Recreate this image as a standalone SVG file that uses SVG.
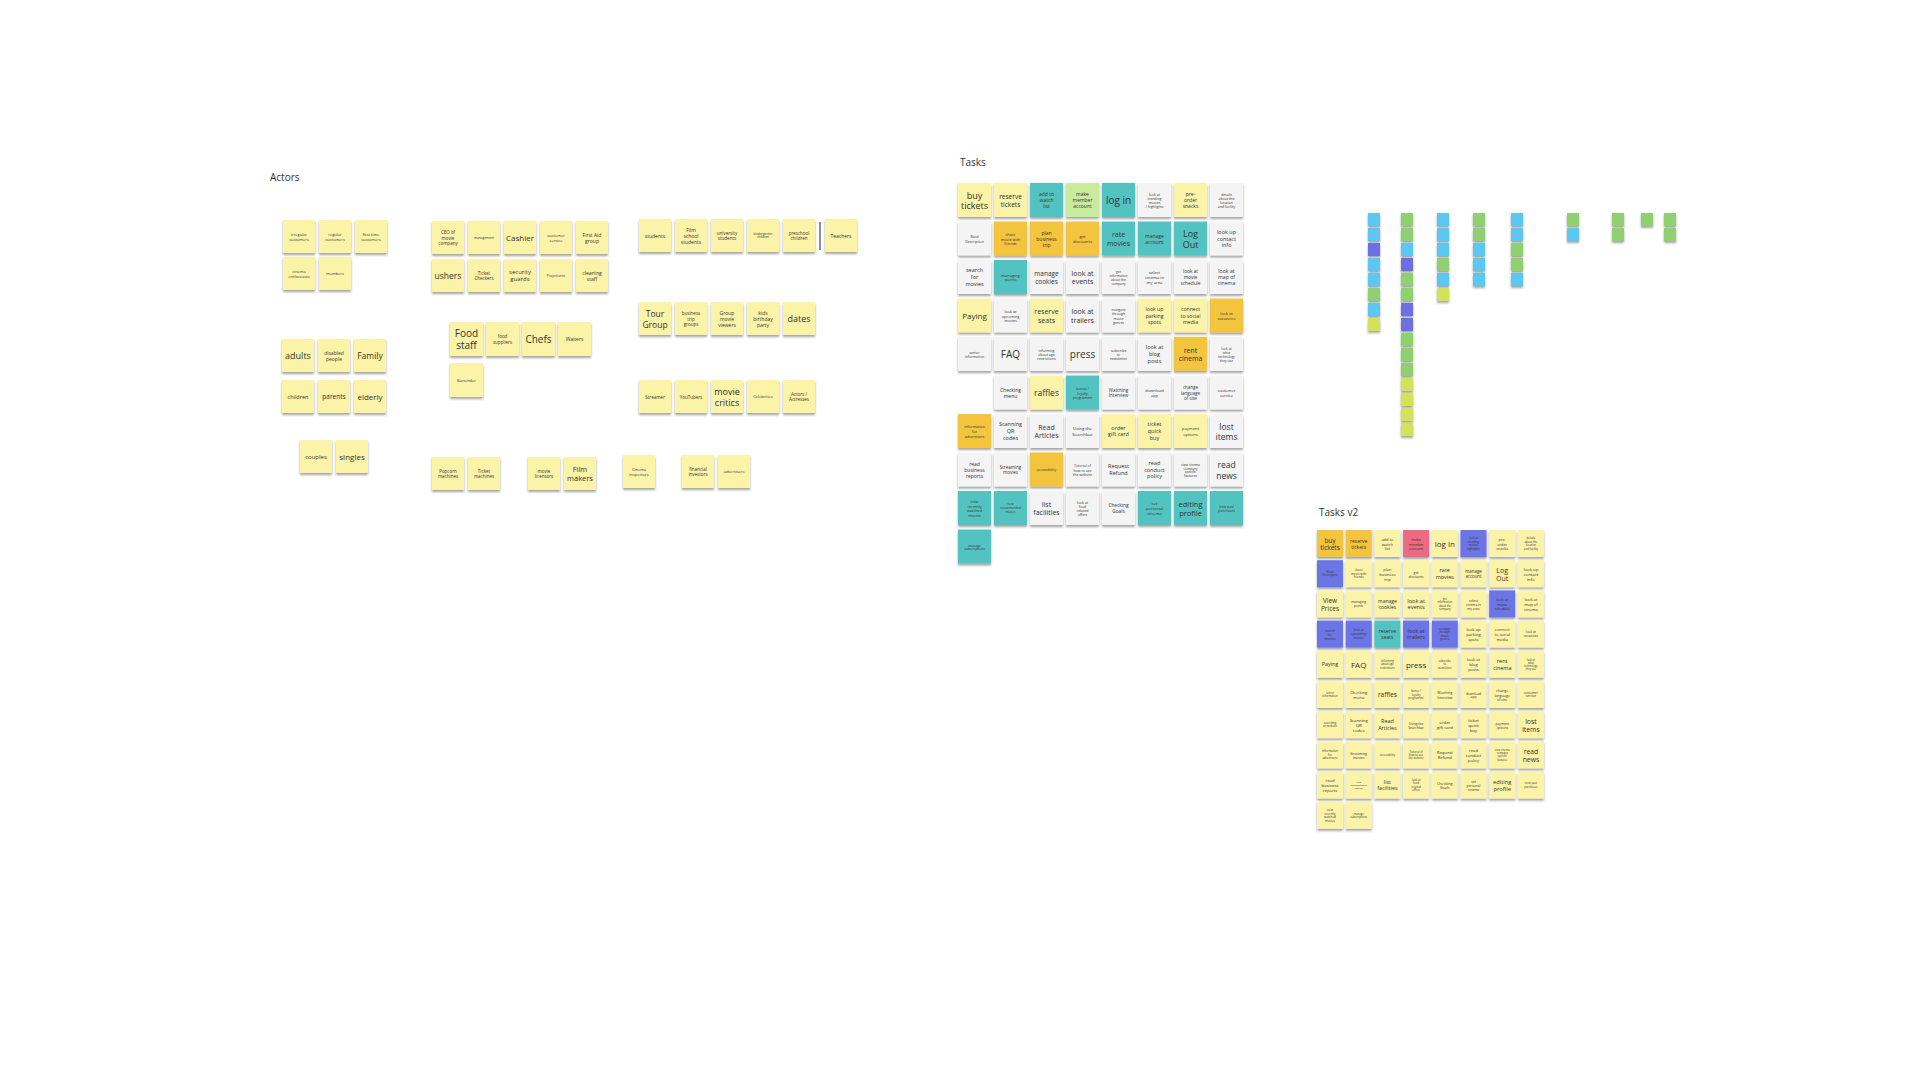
<svg xmlns="http://www.w3.org/2000/svg" width="1920" height="1080" viewBox="0 0 1920 1080">
<style>
.y{fill:#fbf3a8}.w{fill:#f4f4f4}.t{fill:#52c3c1}.o{fill:#f3c43d}.g{fill:#c9eb9c}.p{fill:#ec6a82}.b{fill:#6c74e6}
.lb{fill:#5cc8f2}.gr{fill:#8fd070}.yg{fill:#d2e35a}.pu{fill:#6d6fe2}
rect{filter:url(#sh)}
text{font-family:"Open Sans","Liberation Sans",sans-serif;fill:#333;text-anchor:middle;dominant-baseline:central}
.lbl{text-anchor:start;font-size:10px}
</style>
<defs><filter id="sh" x="-20%" y="-20%" width="140%" height="150%"><feDropShadow dx="0" dy="2" stdDeviation="1" flood-color="#333" flood-opacity="0.45"/></filter></defs>
<rect width="1920" height="1080" fill="#ffffff" style="filter:none"/>
<text class="lbl" x="270" y="177">Actors</text>
<text class="lbl" x="960" y="162">Tasks</text>
<text class="lbl" x="1319" y="512" font-size="9">Tasks v2</text>

<g id="actors">
<g id="a1"><rect class="y" x="283" y="220" width="32" height="33"/><text x="299" y="236.5" font-size="4"><tspan x="299" dy="-0.6em">irregular</tspan><tspan x="299" dy="1.2em">customers</tspan></text></g>
<g id="a2"><rect class="y" x="319" y="220" width="32" height="33"/><text x="335" y="236.5" font-size="4"><tspan x="335" dy="-0.6em">regular</tspan><tspan x="335" dy="1.2em">customers</tspan></text></g>
<g id="a3"><rect class="y" x="355" y="220" width="32" height="33"/><text x="371" y="236.5" font-size="4"><tspan x="371" dy="-0.6em">first time</tspan><tspan x="371" dy="1.2em">customers</tspan></text></g>
<g id="a4"><rect class="y" x="283" y="257" width="32" height="33"/><text x="299" y="273.5" font-size="4"><tspan x="299" dy="-0.6em">cinema</tspan><tspan x="299" dy="1.2em">enthusiasts</tspan></text></g>
<g id="a5"><rect class="y" x="319" y="257" width="32" height="33"/><text x="335" y="273.5" font-size="4">members</text></g>
<g id="a6"><rect class="y" x="282" y="339" width="32" height="33"/><text x="298" y="355.5" font-size="9">adults</text></g>
<g id="a7"><rect class="y" x="318" y="339" width="32" height="33"/><text x="334" y="355.5" font-size="5"><tspan x="334" dy="-0.6em">disabled</tspan><tspan x="334" dy="1.2em">people</tspan></text></g>
<g id="a8"><rect class="y" x="354" y="339" width="32" height="33"/><text x="370" y="355.5" font-size="8.5">Family</text></g>
<g id="a9"><rect class="y" x="282" y="380" width="32" height="33"/><text x="298" y="396.5" font-size="5.5">children</text></g>
<g id="a10"><rect class="y" x="318" y="380" width="32" height="33"/><text x="334" y="396.5" font-size="6.5">parents</text></g>
<g id="a11"><rect class="y" x="354" y="380" width="32" height="33"/><text x="370" y="396.5" font-size="8">elderly</text></g>
<g id="a12"><rect class="y" x="300" y="440" width="32" height="33"/><text x="316" y="456.5" font-size="6">couples</text></g>
<g id="a13"><rect class="y" x="336" y="440" width="32" height="33"/><text x="352" y="456.5" font-size="8">singles</text></g>

<g id="a14"><rect class="y" x="432" y="221" width="32" height="33"/><text x="448" y="237.5" font-size="4.5"><tspan x="448" dy="-1.2em">CEO of</tspan><tspan x="448" dy="1.2em">movie</tspan><tspan x="448" dy="1.2em">company</tspan></text></g>
<g id="a15"><rect class="y" x="468" y="221" width="32" height="33"/><text x="484" y="237.5" font-size="3.2">management</text></g>
<g id="a16"><rect class="y" x="504" y="221" width="32" height="33"/><text x="520" y="237.5" font-size="8">Cashier</text></g>
<g id="a17"><rect class="y" x="540" y="221" width="32" height="33"/><text x="556" y="237.5" font-size="4"><tspan x="556" dy="-0.6em">customer</tspan><tspan x="556" dy="1.2em">service</tspan></text></g>
<g id="a18"><rect class="y" x="576" y="221" width="32" height="33"/><text x="592" y="237.5" font-size="5"><tspan x="592" dy="-0.6em">First Aid</tspan><tspan x="592" dy="1.2em">group</tspan></text></g>
<g id="a19"><rect class="y" x="432" y="259" width="32" height="33"/><text x="448" y="275.5" font-size="8.5">ushers</text></g>
<g id="a20"><rect class="y" x="468" y="259" width="32" height="33"/><text x="484" y="275.5" font-size="4.5"><tspan x="484" dy="-0.6em">Ticket</tspan><tspan x="484" dy="1.2em">Checkers</tspan></text></g>
<g id="a21"><rect class="y" x="504" y="259" width="32" height="33"/><text x="520" y="275.5" font-size="6"><tspan x="520" dy="-0.6em">security</tspan><tspan x="520" dy="1.2em">guards</tspan></text></g>
<g id="a22"><rect class="y" x="540" y="259" width="32" height="33"/><text x="556" y="275.5" font-size="3.2">Projectionist</text></g>
<g id="a23"><rect class="y" x="576" y="259" width="32" height="33"/><text x="592" y="275.5" font-size="5"><tspan x="592" dy="-0.6em">cleaning</tspan><tspan x="592" dy="1.2em">staff</tspan></text></g>
<g id="a24"><rect class="y" x="450" y="322" width="33" height="34"/><text x="466.5" y="339" font-size="10"><tspan x="466.5" dy="-0.6em">Food</tspan><tspan x="466.5" dy="1.2em">staff</tspan></text></g>
<g id="a25"><rect class="y" x="486" y="322" width="33" height="34"/><text x="502.5" y="339" font-size="4.5"><tspan x="502.5" dy="-0.6em">food</tspan><tspan x="502.5" dy="1.2em">suppliers</tspan></text></g>
<g id="a26"><rect class="y" x="522" y="322" width="33" height="34"/><text x="538.5" y="339" font-size="10">Chefs</text></g>
<g id="a27"><rect class="y" x="558" y="322" width="33" height="34"/><text x="574.5" y="339" font-size="5">Waiters</text></g>
<g id="a28"><rect class="y" x="450" y="363" width="33" height="34"/><text x="466.5" y="380" font-size="4">Bartender</text></g>
<g id="a29"><rect class="y" x="432" y="457" width="32" height="33"/><text x="448" y="473.5" font-size="4.5"><tspan x="448" dy="-0.6em">Popcorn</tspan><tspan x="448" dy="1.2em">machines</tspan></text></g>
<g id="a30"><rect class="y" x="468" y="457" width="32" height="33"/><text x="484" y="473.5" font-size="4.5"><tspan x="484" dy="-0.6em">Ticket</tspan><tspan x="484" dy="1.2em">machines</tspan></text></g>
<g id="a31"><rect class="y" x="528" y="457" width="32" height="33"/><text x="544" y="473.5" font-size="4.5"><tspan x="544" dy="-0.6em">movie</tspan><tspan x="544" dy="1.2em">licensors</tspan></text></g>
<g id="a32"><rect class="y" x="564" y="457" width="32" height="33"/><text x="580" y="473.5" font-size="7.5"><tspan x="580" dy="-0.6em">Film</tspan><tspan x="580" dy="1.2em">makers</tspan></text></g>
<g id="a33"><rect class="y" x="623" y="455" width="32" height="33"/><text x="639" y="471.5" font-size="4"><tspan x="639" dy="-0.6em">Cinema</tspan><tspan x="639" dy="1.2em">inspectors</tspan></text></g>
<g id="a34"><rect class="y" x="682" y="455" width="32" height="33"/><text x="698" y="471.5" font-size="4.5"><tspan x="698" dy="-0.6em">financial</tspan><tspan x="698" dy="1.2em">investors</tspan></text></g>
<g id="a35"><rect class="y" x="718" y="455" width="32" height="33"/><text x="734" y="471.5" font-size="4">advertisers</text></g>

<g id="a36"><rect class="y" x="639" y="219" width="32" height="33"/><text x="655" y="235.5" font-size="5">students</text></g>
<g id="a37"><rect class="y" x="675" y="219" width="32" height="33"/><text x="691" y="235.5" font-size="5"><tspan x="691" dy="-1.2em">Film</tspan><tspan x="691" dy="1.2em">school</tspan><tspan x="691" dy="1.2em">students</tspan></text></g>
<g id="a38"><rect class="y" x="711" y="219" width="32" height="33"/><text x="727" y="235.5" font-size="4.5"><tspan x="727" dy="-0.6em">university</tspan><tspan x="727" dy="1.2em">students</tspan></text></g>
<g id="a39"><rect class="y" x="747" y="219" width="32" height="33"/><text x="763" y="235.5" font-size="3.2"><tspan x="763" dy="-0.6em">kindergarten</tspan><tspan x="763" dy="1.2em">children</tspan></text></g>
<g id="a40"><rect class="y" x="783" y="219" width="32" height="33"/><text x="799" y="235.5" font-size="4.5"><tspan x="799" dy="-0.6em">preschool</tspan><tspan x="799" dy="1.2em">children</tspan></text></g>
<line x1="820" y1="222" x2="820" y2="250" stroke="#444" stroke-width="1.2"/>
<g id="a41"><rect class="y" x="825" y="219" width="32" height="33"/><text x="841" y="235.5" font-size="5">Teachers</text></g>
<g id="a42"><rect class="y" x="639" y="302" width="32" height="33"/><text x="655" y="318.5" font-size="8.5"><tspan x="655" dy="-0.6em">Tour</tspan><tspan x="655" dy="1.2em">Group</tspan></text></g>
<g id="a43"><rect class="y" x="675" y="302" width="32" height="33"/><text x="691" y="318.5" font-size="4.5"><tspan x="691" dy="-1.2em">business</tspan><tspan x="691" dy="1.2em">trip</tspan><tspan x="691" dy="1.2em">groups</tspan></text></g>
<g id="a44"><rect class="y" x="711" y="302" width="32" height="33"/><text x="727" y="318.5" font-size="5"><tspan x="727" dy="-1.2em">Group</tspan><tspan x="727" dy="1.2em">movie</tspan><tspan x="727" dy="1.2em">viewers</tspan></text></g>
<g id="a45"><rect class="y" x="747" y="302" width="32" height="33"/><text x="763" y="318.5" font-size="5"><tspan x="763" dy="-1.2em">kids</tspan><tspan x="763" dy="1.2em">birthday</tspan><tspan x="763" dy="1.2em">party</tspan></text></g>
<g id="a46"><rect class="y" x="783" y="302" width="32" height="33"/><text x="799" y="318.5" font-size="9">dates</text></g>
<g id="a47"><rect class="y" x="639" y="380" width="32" height="33"/><text x="655" y="396.5" font-size="4.5">Streamer</text></g>
<g id="a48"><rect class="y" x="675" y="380" width="32" height="33"/><text x="691" y="396.5" font-size="4.5">YouTubers</text></g>
<g id="a49"><rect class="y" x="711" y="380" width="32" height="33"/><text x="727" y="396.5" font-size="9"><tspan x="727" dy="-0.6em">movie</tspan><tspan x="727" dy="1.2em">critics</tspan></text></g>
<g id="a50"><rect class="y" x="747" y="380" width="32" height="33"/><text x="763" y="396.5" font-size="4">Celebrities</text></g>
<g id="a51"><rect class="y" x="783" y="380" width="32" height="33"/><text x="799" y="396.5" font-size="4.5"><tspan x="799" dy="-0.6em">Actors /</tspan><tspan x="799" dy="1.2em">Actresses</tspan></text></g>
</g>

<g id="tasks">
<!-- row 0 y=183 -->
<g id="t0-0"><rect class="y" x="958" y="183" width="33" height="34"/><text x="974.5" y="200" font-size="9"><tspan x="974.5" dy="-0.6em">buy</tspan><tspan x="974.5" dy="1.2em">tickets</tspan></text></g>
<g id="t0-1"><rect class="y" x="994" y="183" width="33" height="34"/><text x="1010.5" y="200" font-size="6.5"><tspan x="1010.5" dy="-0.6em">reserve</tspan><tspan x="1010.5" dy="1.2em">tickets</tspan></text></g>
<g id="t0-2"><rect class="t" x="1030" y="183" width="33" height="34"/><text x="1046.5" y="200" font-size="5"><tspan x="1046.5" dy="-1.2em">add to</tspan><tspan x="1046.5" dy="1.2em">watch</tspan><tspan x="1046.5" dy="1.2em">list</tspan></text></g>
<g id="t0-3"><rect class="g" x="1066" y="183" width="33" height="34"/><text x="1082.5" y="200" font-size="5"><tspan x="1082.5" dy="-1.2em">make</tspan><tspan x="1082.5" dy="1.2em">member</tspan><tspan x="1082.5" dy="1.2em">account</tspan></text></g>
<g id="t0-4"><rect class="t" x="1102" y="183" width="33" height="34"/><text x="1118.5" y="200" font-size="10">log in</text></g>
<g id="t0-5"><rect class="w" x="1138" y="183" width="33" height="34"/><text x="1154.5" y="200" font-size="3.5"><tspan x="1154.5" dy="-1.8em">look at</tspan><tspan x="1154.5" dy="1.2em">trending</tspan><tspan x="1154.5" dy="1.2em">movies</tspan><tspan x="1154.5" dy="1.2em">/ highlights</tspan></text></g>
<g id="t0-6"><rect class="y" x="1174" y="183" width="33" height="34"/><text x="1190.5" y="200" font-size="5"><tspan x="1190.5" dy="-1.2em">pre-</tspan><tspan x="1190.5" dy="1.2em">order</tspan><tspan x="1190.5" dy="1.2em">snacks</tspan></text></g>
<g id="t0-7"><rect class="w" x="1210" y="183" width="33" height="34"/><text x="1226.5" y="200" font-size="3.5"><tspan x="1226.5" dy="-1.8em">details</tspan><tspan x="1226.5" dy="1.2em">about the</tspan><tspan x="1226.5" dy="1.2em">location</tspan><tspan x="1226.5" dy="1.2em">and facility</tspan></text></g>
<!-- row 1 y=221.5 -->
<g id="t1-0"><rect class="w" x="958" y="221.5" width="33" height="34"/><text x="974.5" y="238.5" font-size="3.5"><tspan x="974.5" dy="-0.6em">Read</tspan><tspan x="974.5" dy="1.2em">Description</tspan></text></g>
<g id="t1-1"><rect class="o" x="994" y="221.5" width="33" height="34"/><text x="1010.5" y="238.5" font-size="3.8"><tspan x="1010.5" dy="-1.2em">share</tspan><tspan x="1010.5" dy="1.2em">movie with</tspan><tspan x="1010.5" dy="1.2em">friends</tspan></text></g>
<g id="t1-2"><rect class="o" x="1030" y="221.5" width="33" height="34"/><text x="1046.5" y="238.5" font-size="5"><tspan x="1046.5" dy="-1.2em">plan</tspan><tspan x="1046.5" dy="1.2em">business</tspan><tspan x="1046.5" dy="1.2em">trip</tspan></text></g>
<g id="t1-3"><rect class="o" x="1066" y="221.5" width="33" height="34"/><text x="1082.5" y="238.5" font-size="4.2"><tspan x="1082.5" dy="-0.6em">get</tspan><tspan x="1082.5" dy="1.2em">discounts</tspan></text></g>
<g id="t1-4"><rect class="t" x="1102" y="221.5" width="33" height="34"/><text x="1118.5" y="238.5" font-size="7"><tspan x="1118.5" dy="-0.6em">rate</tspan><tspan x="1118.5" dy="1.2em">movies</tspan></text></g>
<g id="t1-5"><rect class="t" x="1138" y="221.5" width="33" height="34"/><text x="1154.5" y="238.5" font-size="5"><tspan x="1154.5" dy="-0.6em">manage</tspan><tspan x="1154.5" dy="1.2em">account</tspan></text></g>
<g id="t1-6"><rect class="t" x="1174" y="221.5" width="33" height="34"/><text x="1190.5" y="238.5" font-size="9"><tspan x="1190.5" dy="-0.6em">Log</tspan><tspan x="1190.5" dy="1.2em">Out</tspan></text></g>
<g id="t1-7"><rect class="w" x="1210" y="221.5" width="33" height="34"/><text x="1226.5" y="238.5" font-size="5.5"><tspan x="1226.5" dy="-1.2em">look up</tspan><tspan x="1226.5" dy="1.2em">contact</tspan><tspan x="1226.5" dy="1.2em">info</tspan></text></g>
<!-- row 2 y=260 -->
<g id="t2-0"><rect class="w" x="958" y="260" width="33" height="34"/><text x="974.5" y="277" font-size="5.5"><tspan x="974.5" dy="-1.2em">search</tspan><tspan x="974.5" dy="1.2em">for</tspan><tspan x="974.5" dy="1.2em">movies</tspan></text></g>
<g id="t2-1"><rect class="t" x="994" y="260" width="33" height="34"/><text x="1010.5" y="277" font-size="4"><tspan x="1010.5" dy="-0.6em">managing</tspan><tspan x="1010.5" dy="1.2em">points</tspan></text></g>
<g id="t2-2"><rect class="w" x="1030" y="260" width="33" height="34"/><text x="1046.5" y="277" font-size="6.5"><tspan x="1046.5" dy="-0.6em">manage</tspan><tspan x="1046.5" dy="1.2em">cookies</tspan></text></g>
<g id="t2-3"><rect class="w" x="1066" y="260" width="33" height="34"/><text x="1082.5" y="277" font-size="7"><tspan x="1082.5" dy="-0.6em">look at</tspan><tspan x="1082.5" dy="1.2em">events</tspan></text></g>
<g id="t2-4"><rect class="w" x="1102" y="260" width="33" height="34"/><text x="1118.5" y="277" font-size="3.3"><tspan x="1118.5" dy="-1.8em">get</tspan><tspan x="1118.5" dy="1.2em">information</tspan><tspan x="1118.5" dy="1.2em">about the</tspan><tspan x="1118.5" dy="1.2em">company</tspan></text></g>
<g id="t2-5"><rect class="w" x="1138" y="260" width="33" height="34"/><text x="1154.5" y="277" font-size="4.2"><tspan x="1154.5" dy="-1.2em">select</tspan><tspan x="1154.5" dy="1.2em">cinema in</tspan><tspan x="1154.5" dy="1.2em">my area</tspan></text></g>
<g id="t2-6"><rect class="w" x="1174" y="260" width="33" height="34"/><text x="1190.5" y="277" font-size="4.8"><tspan x="1190.5" dy="-1.2em">look at</tspan><tspan x="1190.5" dy="1.2em">movie</tspan><tspan x="1190.5" dy="1.2em">schedule</tspan></text></g>
<g id="t2-7"><rect class="w" x="1210" y="260" width="33" height="34"/><text x="1226.5" y="277" font-size="5.2"><tspan x="1226.5" dy="-1.2em">look at</tspan><tspan x="1226.5" dy="1.2em">map of</tspan><tspan x="1226.5" dy="1.2em">cinema</tspan></text></g>
<!-- row 3 y=298.5 -->
<g id="t3-0"><rect class="y" x="958" y="298.5" width="33" height="34"/><text x="974.5" y="315.5" font-size="8">Paying</text></g>
<g id="t3-1"><rect class="w" x="994" y="298.5" width="33" height="34"/><text x="1010.5" y="315.5" font-size="3.8"><tspan x="1010.5" dy="-1.2em">look at</tspan><tspan x="1010.5" dy="1.2em">upcoming</tspan><tspan x="1010.5" dy="1.2em">movies</tspan></text></g>
<g id="t3-2"><rect class="y" x="1030" y="298.5" width="33" height="34"/><text x="1046.5" y="315.5" font-size="7"><tspan x="1046.5" dy="-0.6em">reserve</tspan><tspan x="1046.5" dy="1.2em">seats</tspan></text></g>
<g id="t3-3"><rect class="w" x="1066" y="298.5" width="33" height="34"/><text x="1082.5" y="315.5" font-size="7"><tspan x="1082.5" dy="-0.6em">look at</tspan><tspan x="1082.5" dy="1.2em">trailers</tspan></text></g>
<g id="t3-4"><rect class="w" x="1102" y="298.5" width="33" height="34"/><text x="1118.5" y="315.5" font-size="3.5"><tspan x="1118.5" dy="-1.8em">navigate</tspan><tspan x="1118.5" dy="1.2em">through</tspan><tspan x="1118.5" dy="1.2em">movie</tspan><tspan x="1118.5" dy="1.2em">genres</tspan></text></g>
<g id="t3-5"><rect class="y" x="1138" y="298.5" width="33" height="34"/><text x="1154.5" y="315.5" font-size="5.2"><tspan x="1154.5" dy="-1.2em">look up</tspan><tspan x="1154.5" dy="1.2em">parking</tspan><tspan x="1154.5" dy="1.2em">spots</tspan></text></g>
<g id="t3-6"><rect class="y" x="1174" y="298.5" width="33" height="34"/><text x="1190.5" y="315.5" font-size="5.2"><tspan x="1190.5" dy="-1.2em">connect</tspan><tspan x="1190.5" dy="1.2em">to social</tspan><tspan x="1190.5" dy="1.2em">media</tspan></text></g>
<g id="t3-7"><rect class="o" x="1210" y="298.5" width="33" height="34"/><text x="1226.5" y="315.5" font-size="4"><tspan x="1226.5" dy="-0.6em">look at</tspan><tspan x="1226.5" dy="1.2em">vacancies</tspan></text></g>
<!-- row 4 y=337 -->
<g id="t4-0"><rect class="w" x="958" y="337" width="33" height="34"/><text x="974.5" y="354" font-size="3.5"><tspan x="974.5" dy="-0.6em">senior</tspan><tspan x="974.5" dy="1.2em">information</tspan></text></g>
<g id="t4-1"><rect class="w" x="994" y="337" width="33" height="34"/><text x="1010.5" y="354" font-size="10">FAQ</text></g>
<g id="t4-2"><rect class="w" x="1030" y="337" width="33" height="34"/><text x="1046.5" y="354" font-size="3.5"><tspan x="1046.5" dy="-1.2em">informing</tspan><tspan x="1046.5" dy="1.2em">about age</tspan><tspan x="1046.5" dy="1.2em">restrictions</tspan></text></g>
<g id="t4-3"><rect class="w" x="1066" y="337" width="33" height="34"/><text x="1082.5" y="354" font-size="10">press</text></g>
<g id="t4-4"><rect class="w" x="1102" y="337" width="33" height="34"/><text x="1118.5" y="354" font-size="3.5"><tspan x="1118.5" dy="-1.2em">subscribe</tspan><tspan x="1118.5" dy="1.2em">to</tspan><tspan x="1118.5" dy="1.2em">newsletter</tspan></text></g>
<g id="t4-5"><rect class="w" x="1138" y="337" width="33" height="34"/><text x="1154.5" y="354" font-size="5.5"><tspan x="1154.5" dy="-1.2em">look at</tspan><tspan x="1154.5" dy="1.2em">blog</tspan><tspan x="1154.5" dy="1.2em">posts</tspan></text></g>
<g id="t4-6"><rect class="o" x="1174" y="337" width="33" height="34"/><text x="1190.5" y="354" font-size="7"><tspan x="1190.5" dy="-0.6em">rent</tspan><tspan x="1190.5" dy="1.2em">cinema</tspan></text></g>
<g id="t4-7"><rect class="w" x="1210" y="337" width="33" height="34"/><text x="1226.5" y="354" font-size="3.3"><tspan x="1226.5" dy="-1.8em">look at</tspan><tspan x="1226.5" dy="1.2em">what</tspan><tspan x="1226.5" dy="1.2em">technology</tspan><tspan x="1226.5" dy="1.2em">they use</tspan></text></g>
<!-- row 5 y=375.5 -->
<g id="t5-1"><rect class="w" x="994" y="375.5" width="33" height="34"/><text x="1010.5" y="392.5" font-size="5"><tspan x="1010.5" dy="-0.6em">Checking</tspan><tspan x="1010.5" dy="1.2em">menu</tspan></text></g>
<g id="t5-2"><rect class="y" x="1030" y="375.5" width="33" height="34"/><text x="1046.5" y="392.5" font-size="8.5">raffles</text></g>
<g id="t5-3"><rect class="t" x="1066" y="375.5" width="33" height="34"/><text x="1082.5" y="392.5" font-size="3.5"><tspan x="1082.5" dy="-1.2em">bonus /</tspan><tspan x="1082.5" dy="1.2em">loyalty</tspan><tspan x="1082.5" dy="1.2em">programme</tspan></text></g>
<g id="t5-4"><rect class="w" x="1102" y="375.5" width="33" height="34"/><text x="1118.5" y="392.5" font-size="4.5"><tspan x="1118.5" dy="-0.6em">Watching</tspan><tspan x="1118.5" dy="1.2em">Interview</tspan></text></g>
<g id="t5-5"><rect class="w" x="1138" y="375.5" width="33" height="34"/><text x="1154.5" y="392.5" font-size="4"><tspan x="1154.5" dy="-0.6em">download</tspan><tspan x="1154.5" dy="1.2em">app</tspan></text></g>
<g id="t5-6"><rect class="w" x="1174" y="375.5" width="33" height="34"/><text x="1190.5" y="392.5" font-size="4.5"><tspan x="1190.5" dy="-1.2em">change</tspan><tspan x="1190.5" dy="1.2em">language</tspan><tspan x="1190.5" dy="1.2em">of site</tspan></text></g>
<g id="t5-7"><rect class="w" x="1210" y="375.5" width="33" height="34"/><text x="1226.5" y="392.5" font-size="4"><tspan x="1226.5" dy="-0.6em">customer</tspan><tspan x="1226.5" dy="1.2em">service</tspan></text></g>
<!-- row 6 y=414 -->
<g id="t6-0"><rect class="o" x="958" y="414" width="33" height="34"/><text x="974.5" y="431" font-size="3.8"><tspan x="974.5" dy="-1.2em">information</tspan><tspan x="974.5" dy="1.2em">for</tspan><tspan x="974.5" dy="1.2em">advertisers</tspan></text></g>
<g id="t6-1"><rect class="w" x="994" y="414" width="33" height="34"/><text x="1010.5" y="431" font-size="5.5"><tspan x="1010.5" dy="-1.2em">Scanning</tspan><tspan x="1010.5" dy="1.2em">QR</tspan><tspan x="1010.5" dy="1.2em">codes</tspan></text></g>
<g id="t6-2"><rect class="w" x="1030" y="414" width="33" height="34"/><text x="1046.5" y="431" font-size="7"><tspan x="1046.5" dy="-0.6em">Read</tspan><tspan x="1046.5" dy="1.2em">Articles</tspan></text></g>
<g id="t6-3"><rect class="w" x="1066" y="414" width="33" height="34"/><text x="1082.5" y="431" font-size="4.3"><tspan x="1082.5" dy="-0.6em">Using the</tspan><tspan x="1082.5" dy="1.2em">Searchbar</tspan></text></g>
<g id="t6-4"><rect class="y" x="1102" y="414" width="33" height="34"/><text x="1118.5" y="431" font-size="5.5"><tspan x="1118.5" dy="-0.6em">order</tspan><tspan x="1118.5" dy="1.2em">gift card</tspan></text></g>
<g id="t6-5"><rect class="y" x="1138" y="414" width="33" height="34"/><text x="1154.5" y="431" font-size="5.5"><tspan x="1154.5" dy="-1.2em">ticket</tspan><tspan x="1154.5" dy="1.2em">quick</tspan><tspan x="1154.5" dy="1.2em">buy</tspan></text></g>
<g id="t6-6"><rect class="y" x="1174" y="414" width="33" height="34"/><text x="1190.5" y="431" font-size="4.2"><tspan x="1190.5" dy="-0.6em">payment</tspan><tspan x="1190.5" dy="1.2em">options</tspan></text></g>
<g id="t6-7"><rect class="w" x="1210" y="414" width="33" height="34"/><text x="1226.5" y="431" font-size="8.5"><tspan x="1226.5" dy="-0.6em">lost</tspan><tspan x="1226.5" dy="1.2em">items</tspan></text></g>
<!-- row 7 y=452.5 -->
<g id="t7-0"><rect class="w" x="958" y="452.5" width="33" height="34"/><text x="974.5" y="469.5" font-size="5"><tspan x="974.5" dy="-1.2em">read</tspan><tspan x="974.5" dy="1.2em">business</tspan><tspan x="974.5" dy="1.2em">reports</tspan></text></g>
<g id="t7-1"><rect class="w" x="994" y="452.5" width="33" height="34"/><text x="1010.5" y="469.5" font-size="4.5"><tspan x="1010.5" dy="-0.6em">Streaming</tspan><tspan x="1010.5" dy="1.2em">movies</tspan></text></g>
<g id="t7-2"><rect class="o" x="1030" y="452.5" width="33" height="34"/><text x="1046.5" y="469.5" font-size="3.5">accessibility</text></g>
<g id="t7-3"><rect class="w" x="1066" y="452.5" width="33" height="34"/><text x="1082.5" y="469.5" font-size="3.5"><tspan x="1082.5" dy="-1.2em">Tutorial of</tspan><tspan x="1082.5" dy="1.2em">how to use</tspan><tspan x="1082.5" dy="1.2em">the website</tspan></text></g>
<g id="t7-4"><rect class="w" x="1102" y="452.5" width="33" height="34"/><text x="1118.5" y="469.5" font-size="5.5"><tspan x="1118.5" dy="-0.6em">Request</tspan><tspan x="1118.5" dy="1.2em">Refund</tspan></text></g>
<g id="t7-5"><rect class="w" x="1138" y="452.5" width="33" height="34"/><text x="1154.5" y="469.5" font-size="5.5"><tspan x="1154.5" dy="-1.2em">read</tspan><tspan x="1154.5" dy="1.2em">conduct</tspan><tspan x="1154.5" dy="1.2em">policy</tspan></text></g>
<g id="t7-6"><rect class="w" x="1174" y="452.5" width="33" height="34"/><text x="1190.5" y="469.5" font-size="3.3"><tspan x="1190.5" dy="-1.8em">view cinema</tspan><tspan x="1190.5" dy="1.2em">company</tspan><tspan x="1190.5" dy="1.2em">specific</tspan><tspan x="1190.5" dy="1.2em">features</tspan></text></g>
<g id="t7-7"><rect class="w" x="1210" y="452.5" width="33" height="34"/><text x="1226.5" y="469.5" font-size="8.5"><tspan x="1226.5" dy="-0.6em">read</tspan><tspan x="1226.5" dy="1.2em">news</tspan></text></g>
<!-- row 8 y=491 -->
<g id="t8-0"><rect class="t" x="958" y="491" width="33" height="34"/><text x="974.5" y="508" font-size="3.8"><tspan x="974.5" dy="-1.8em">view</tspan><tspan x="974.5" dy="1.2em">recently</tspan><tspan x="974.5" dy="1.2em">watched</tspan><tspan x="974.5" dy="1.2em">movies</tspan></text></g>
<g id="t8-1"><rect class="t" x="994" y="491" width="33" height="34"/><text x="1010.5" y="508" font-size="3"><tspan x="1010.5" dy="-1.2em">view</tspan><tspan x="1010.5" dy="1.2em">recommended</tspan><tspan x="1010.5" dy="1.2em">movies</tspan></text></g>
<g id="t8-2"><rect class="w" x="1030" y="491" width="33" height="34"/><text x="1046.5" y="508" font-size="7"><tspan x="1046.5" dy="-0.6em">list</tspan><tspan x="1046.5" dy="1.2em">facilities</tspan></text></g>
<g id="t8-3"><rect class="w" x="1066" y="491" width="33" height="34"/><text x="1082.5" y="508" font-size="3.5"><tspan x="1082.5" dy="-1.8em">look at</tspan><tspan x="1082.5" dy="1.2em">food</tspan><tspan x="1082.5" dy="1.2em">related</tspan><tspan x="1082.5" dy="1.2em">offers</tspan></text></g>
<g id="t8-4"><rect class="w" x="1102" y="491" width="33" height="34"/><text x="1118.5" y="508" font-size="4.8"><tspan x="1118.5" dy="-0.6em">Checking</tspan><tspan x="1118.5" dy="1.2em">Goals</tspan></text></g>
<g id="t8-5"><rect class="t" x="1138" y="491" width="33" height="34"/><text x="1154.5" y="508" font-size="4.3"><tspan x="1154.5" dy="-1.2em">set</tspan><tspan x="1154.5" dy="1.2em">personal</tspan><tspan x="1154.5" dy="1.2em">cinema</tspan></text></g>
<g id="t8-6"><rect class="t" x="1174" y="491" width="33" height="34"/><text x="1190.5" y="508" font-size="7.5"><tspan x="1190.5" dy="-0.6em">editing</tspan><tspan x="1190.5" dy="1.2em">profile</tspan></text></g>
<g id="t8-7"><rect class="t" x="1210" y="491" width="33" height="34"/><text x="1226.5" y="508" font-size="3.5"><tspan x="1226.5" dy="-0.6em">view past</tspan><tspan x="1226.5" dy="1.2em">purchases</tspan></text></g>
<g id="t9-0"><rect class="t" x="958" y="529.5" width="33" height="34"/><text x="974.5" y="546.5" font-size="3.3"><tspan x="974.5" dy="-0.6em">manage</tspan><tspan x="974.5" dy="1.2em">subscriptions</tspan></text></g>
</g>

<g id="clusters">
<g id="cA"><rect class="lb" x="1368" y="213" width="12" height="13"/><rect class="lb" x="1368" y="228" width="12" height="13"/><rect class="pu" x="1368" y="243" width="12" height="13"/><rect class="lb" x="1368" y="258" width="12" height="13"/><rect class="lb" x="1368" y="273" width="12" height="13"/><rect class="gr" x="1368" y="288" width="12" height="13"/><rect class="lb" x="1368" y="303" width="12" height="13"/><rect class="yg" x="1368" y="318" width="12" height="13"/></g>
<g id="cB"><rect class="gr" x="1401" y="213" width="12" height="13"/><rect class="gr" x="1401" y="228" width="12" height="13"/><rect class="lb" x="1401" y="243" width="12" height="13"/><rect class="pu" x="1401" y="258" width="12" height="13"/><rect class="gr" x="1401" y="273" width="12" height="13"/><rect class="gr" x="1401" y="288" width="12" height="13"/><rect class="pu" x="1401" y="303" width="12" height="13"/><rect class="pu" x="1401" y="318" width="12" height="13"/><rect class="gr" x="1401" y="333" width="12" height="13"/><rect class="gr" x="1401" y="348" width="12" height="13"/><rect class="gr" x="1401" y="363" width="12" height="13"/><rect class="yg" x="1401" y="378" width="12" height="13"/><rect class="yg" x="1401" y="393" width="12" height="13"/><rect class="yg" x="1401" y="408" width="12" height="13"/><rect class="yg" x="1401" y="423" width="12" height="13"/></g>
<g id="cC"><rect class="lb" x="1437" y="213" width="12" height="13"/><rect class="lb" x="1437" y="228" width="12" height="13"/><rect class="lb" x="1437" y="243" width="12" height="13"/><rect class="gr" x="1437" y="258" width="12" height="13"/><rect class="lb" x="1437" y="273" width="12" height="13"/><rect class="yg" x="1437" y="288" width="12" height="13"/></g>
<g id="cD"><rect class="gr" x="1473" y="213" width="12" height="13"/><rect class="gr" x="1473" y="228" width="12" height="13"/><rect class="lb" x="1473" y="243" width="12" height="13"/><rect class="lb" x="1473" y="258" width="12" height="13"/><rect class="lb" x="1473" y="273" width="12" height="13"/></g>
<g id="cE"><rect class="lb" x="1511" y="213" width="12" height="13"/><rect class="lb" x="1511" y="228" width="12" height="13"/><rect class="gr" x="1511" y="243" width="12" height="13"/><rect class="gr" x="1511" y="258" width="12" height="13"/><rect class="lb" x="1511" y="273" width="12" height="13"/></g>
<g id="cF"><rect class="gr" x="1567" y="213" width="12" height="13"/><rect class="lb" x="1567" y="228" width="12" height="13"/></g>
<g id="cG"><rect class="gr" x="1612" y="213" width="12" height="13"/><rect class="gr" x="1612" y="228" width="12" height="13"/></g>
<g id="cH"><rect class="gr" x="1641" y="213" width="12" height="13"/></g>
<g id="cI"><rect class="gr" x="1664" y="213" width="12" height="13"/><rect class="gr" x="1664" y="228" width="12" height="13"/></g>
</g>

<g id="tasksv2">
<!-- row0 y=530 -->
<g id="v0-0"><rect class="o" x="1317" y="530" width="26" height="27"/><text x="1330" y="543.5" font-size="6.5"><tspan x="1330" dy="-0.6em">buy</tspan><tspan x="1330" dy="1.2em">tickets</tspan></text></g>
<g id="v0-1"><rect class="o" x="1345.7" y="530" width="26" height="27"/><text x="1358.7" y="543.5" font-size="5"><tspan x="1358.7" dy="-0.6em">reserve</tspan><tspan x="1358.7" dy="1.2em">tickets</tspan></text></g>
<g id="v0-2"><rect class="y" x="1374.4" y="530" width="26" height="27"/><text x="1387.4" y="543.5" font-size="4"><tspan x="1387.4" dy="-1.2em">add to</tspan><tspan x="1387.4" dy="1.2em">watch</tspan><tspan x="1387.4" dy="1.2em">list</tspan></text></g>
<g id="v0-3"><rect class="p" x="1403.1" y="530" width="26" height="27"/><text x="1416.1" y="543.5" font-size="3.8"><tspan x="1416.1" dy="-1.2em">make</tspan><tspan x="1416.1" dy="1.2em">member</tspan><tspan x="1416.1" dy="1.2em">account</tspan></text></g>
<g id="v0-4"><rect class="y" x="1431.8" y="530" width="26" height="27"/><text x="1444.8" y="543.5" font-size="8">log in</text></g>
<g id="v0-5"><rect class="b" x="1460.5" y="530" width="26" height="27"/><text x="1473.5" y="543.5" font-size="2.8"><tspan x="1473.5" dy="-1.8em">look at</tspan><tspan x="1473.5" dy="1.2em">trending</tspan><tspan x="1473.5" dy="1.2em">movies</tspan><tspan x="1473.5" dy="1.2em">highlights</tspan></text></g>
<g id="v0-6"><rect class="y" x="1489.2" y="530" width="26" height="27"/><text x="1502.2" y="543.5" font-size="3.8"><tspan x="1502.2" dy="-1.2em">pre-</tspan><tspan x="1502.2" dy="1.2em">order</tspan><tspan x="1502.2" dy="1.2em">snacks</tspan></text></g>
<g id="v0-7"><rect class="y" x="1517.9" y="530" width="26" height="27"/><text x="1530.9" y="543.5" font-size="2.8"><tspan x="1530.9" dy="-1.8em">details</tspan><tspan x="1530.9" dy="1.2em">about the</tspan><tspan x="1530.9" dy="1.2em">location</tspan><tspan x="1530.9" dy="1.2em">and facility</tspan></text></g>
<!-- row1 y=560.2 -->
<g id="v1-0"><rect class="b" x="1317" y="560.2" width="26" height="27"/><text x="1330" y="573.7" font-size="2.8"><tspan x="1330" dy="-0.6em">Read</tspan><tspan x="1330" dy="1.2em">Description</tspan></text></g>
<g id="v1-1"><rect class="y" x="1345.7" y="560.2" width="26" height="27"/><text x="1358.7" y="573.7" font-size="3"><tspan x="1358.7" dy="-1.2em">share</tspan><tspan x="1358.7" dy="1.2em">movie with</tspan><tspan x="1358.7" dy="1.2em">friends</tspan></text></g>
<g id="v1-2"><rect class="y" x="1374.4" y="560.2" width="26" height="27"/><text x="1387.4" y="573.7" font-size="4"><tspan x="1387.4" dy="-1.2em">plan</tspan><tspan x="1387.4" dy="1.2em">business</tspan><tspan x="1387.4" dy="1.2em">trip</tspan></text></g>
<g id="v1-3"><rect class="y" x="1403.1" y="560.2" width="26" height="27"/><text x="1416.1" y="573.7" font-size="3.4"><tspan x="1416.1" dy="-0.6em">get</tspan><tspan x="1416.1" dy="1.2em">discounts</tspan></text></g>
<g id="v1-4"><rect class="y" x="1431.8" y="560.2" width="26" height="27"/><text x="1444.8" y="573.7" font-size="5.5"><tspan x="1444.8" dy="-0.6em">rate</tspan><tspan x="1444.8" dy="1.2em">movies</tspan></text></g>
<g id="v1-5"><rect class="y" x="1460.5" y="560.2" width="26" height="27"/><text x="1473.5" y="573.7" font-size="4.4"><tspan x="1473.5" dy="-0.6em">manage</tspan><tspan x="1473.5" dy="1.2em">account</tspan></text></g>
<g id="v1-6"><rect class="y" x="1489.2" y="560.2" width="26" height="27"/><text x="1502.2" y="573.7" font-size="7"><tspan x="1502.2" dy="-0.6em">Log</tspan><tspan x="1502.2" dy="1.2em">Out</tspan></text></g>
<g id="v1-7"><rect class="y" x="1517.9" y="560.2" width="26" height="27"/><text x="1530.9" y="573.7" font-size="4.3"><tspan x="1530.9" dy="-1.2em">look up</tspan><tspan x="1530.9" dy="1.2em">contact</tspan><tspan x="1530.9" dy="1.2em">info</tspan></text></g>
<!-- row2 y=590.4 -->
<g id="v2-0"><rect class="y" x="1317" y="590.4" width="26" height="27"/><text x="1330" y="603.9" font-size="6.5"><tspan x="1330" dy="-0.6em">View</tspan><tspan x="1330" dy="1.2em">Prices</tspan></text></g>
<g id="v2-1"><rect class="y" x="1345.7" y="590.4" width="26" height="27"/><text x="1358.7" y="603.9" font-size="3.2"><tspan x="1358.7" dy="-0.6em">managing</tspan><tspan x="1358.7" dy="1.2em">points</tspan></text></g>
<g id="v2-2"><rect class="y" x="1374.4" y="590.4" width="26" height="27"/><text x="1387.4" y="603.9" font-size="5"><tspan x="1387.4" dy="-0.6em">manage</tspan><tspan x="1387.4" dy="1.2em">cookies</tspan></text></g>
<g id="v2-3"><rect class="y" x="1403.1" y="590.4" width="26" height="27"/><text x="1416.1" y="603.9" font-size="5.6"><tspan x="1416.1" dy="-0.6em">look at</tspan><tspan x="1416.1" dy="1.2em">events</tspan></text></g>
<g id="v2-4"><rect class="y" x="1431.8" y="590.4" width="26" height="27"/><text x="1444.8" y="603.9" font-size="2.7"><tspan x="1444.8" dy="-1.8em">get</tspan><tspan x="1444.8" dy="1.2em">information</tspan><tspan x="1444.8" dy="1.2em">about the</tspan><tspan x="1444.8" dy="1.2em">company</tspan></text></g>
<g id="v2-5"><rect class="y" x="1460.5" y="590.4" width="26" height="27"/><text x="1473.5" y="603.9" font-size="3.3"><tspan x="1473.5" dy="-1.2em">select</tspan><tspan x="1473.5" dy="1.2em">cinema in</tspan><tspan x="1473.5" dy="1.2em">my area</tspan></text></g>
<g id="v2-6"><rect class="b" x="1489.2" y="590.4" width="26" height="27"/><text x="1502.2" y="603.9" font-size="3.7"><tspan x="1502.2" dy="-1.2em">look at</tspan><tspan x="1502.2" dy="1.2em">movie</tspan><tspan x="1502.2" dy="1.2em">schedule</tspan></text></g>
<g id="v2-7"><rect class="y" x="1517.9" y="590.4" width="26" height="27"/><text x="1530.9" y="603.9" font-size="4.1"><tspan x="1530.9" dy="-1.2em">look at</tspan><tspan x="1530.9" dy="1.2em">map of</tspan><tspan x="1530.9" dy="1.2em">cinema</tspan></text></g>
<!-- row3 y=620.6 -->
<g id="v3-0"><rect class="b" x="1317" y="620.6" width="26" height="27"/><text x="1330" y="634.1" font-size="3.3"><tspan x="1330" dy="-1.2em">search</tspan><tspan x="1330" dy="1.2em">for</tspan><tspan x="1330" dy="1.2em">movies</tspan></text></g>
<g id="v3-1"><rect class="b" x="1345.7" y="620.6" width="26" height="27"/><text x="1358.7" y="634.1" font-size="3.1"><tspan x="1358.7" dy="-1.2em">look at</tspan><tspan x="1358.7" dy="1.2em">upcoming</tspan><tspan x="1358.7" dy="1.2em">movies</tspan></text></g>
<g id="v3-2"><rect class="t" x="1374.4" y="620.6" width="26" height="27"/><text x="1387.4" y="634.1" font-size="5"><tspan x="1387.4" dy="-0.6em">reserve</tspan><tspan x="1387.4" dy="1.2em">seats</tspan></text></g>
<g id="v3-3"><rect class="b" x="1403.1" y="620.6" width="26" height="27"/><text x="1416.1" y="634.1" font-size="5.4"><tspan x="1416.1" dy="-0.6em">look at</tspan><tspan x="1416.1" dy="1.2em">trailers</tspan></text></g>
<g id="v3-4"><rect class="b" x="1431.8" y="620.6" width="26" height="27"/><text x="1444.8" y="634.1" font-size="2.8"><tspan x="1444.8" dy="-1.8em">navigate</tspan><tspan x="1444.8" dy="1.2em">through</tspan><tspan x="1444.8" dy="1.2em">movie</tspan><tspan x="1444.8" dy="1.2em">genres</tspan></text></g>
<g id="v3-5"><rect class="y" x="1460.5" y="620.6" width="26" height="27"/><text x="1473.5" y="634.1" font-size="4.1"><tspan x="1473.5" dy="-1.2em">look up</tspan><tspan x="1473.5" dy="1.2em">parking</tspan><tspan x="1473.5" dy="1.2em">spots</tspan></text></g>
<g id="v3-6"><rect class="y" x="1489.2" y="620.6" width="26" height="27"/><text x="1502.2" y="634.1" font-size="4"><tspan x="1502.2" dy="-1.2em">connect</tspan><tspan x="1502.2" dy="1.2em">to social</tspan><tspan x="1502.2" dy="1.2em">media</tspan></text></g>
<g id="v3-7"><rect class="y" x="1517.9" y="620.6" width="26" height="27"/><text x="1530.9" y="634.1" font-size="3.2"><tspan x="1530.9" dy="-0.6em">look at</tspan><tspan x="1530.9" dy="1.2em">vacancies</tspan></text></g>
<!-- row4 y=650.8 -->
<g id="v4-0"><rect class="y" x="1317" y="650.8" width="26" height="27"/><text x="1330" y="664.3" font-size="5.4">Paying</text></g>
<g id="v4-1"><rect class="y" x="1345.7" y="650.8" width="26" height="27"/><text x="1358.7" y="664.3" font-size="8">FAQ</text></g>
<g id="v4-2"><rect class="y" x="1374.4" y="650.8" width="26" height="27"/><text x="1387.4" y="664.3" font-size="2.8"><tspan x="1387.4" dy="-1.2em">informing</tspan><tspan x="1387.4" dy="1.2em">about age</tspan><tspan x="1387.4" dy="1.2em">restrictions</tspan></text></g>
<g id="v4-3"><rect class="y" x="1403.1" y="650.8" width="26" height="27"/><text x="1416.1" y="664.3" font-size="8">press</text></g>
<g id="v4-4"><rect class="y" x="1431.8" y="650.8" width="26" height="27"/><text x="1444.8" y="664.3" font-size="2.8"><tspan x="1444.8" dy="-1.2em">subscribe</tspan><tspan x="1444.8" dy="1.2em">to</tspan><tspan x="1444.8" dy="1.2em">newsletter</tspan></text></g>
<g id="v4-5"><rect class="y" x="1460.5" y="650.8" width="26" height="27"/><text x="1473.5" y="664.3" font-size="4.2"><tspan x="1473.5" dy="-1.2em">look at</tspan><tspan x="1473.5" dy="1.2em">blog</tspan><tspan x="1473.5" dy="1.2em">posts</tspan></text></g>
<g id="v4-6"><rect class="y" x="1489.2" y="650.8" width="26" height="27"/><text x="1502.2" y="664.3" font-size="5.5"><tspan x="1502.2" dy="-0.6em">rent</tspan><tspan x="1502.2" dy="1.2em">cinema</tspan></text></g>
<g id="v4-7"><rect class="y" x="1517.9" y="650.8" width="26" height="27"/><text x="1530.9" y="664.3" font-size="2.6"><tspan x="1530.9" dy="-1.8em">look at</tspan><tspan x="1530.9" dy="1.2em">what</tspan><tspan x="1530.9" dy="1.2em">technology</tspan><tspan x="1530.9" dy="1.2em">they use</tspan></text></g>
<!-- row5 y=681 -->
<g id="v5-0"><rect class="y" x="1317" y="681" width="26" height="27"/><text x="1330" y="694.5" font-size="2.8"><tspan x="1330" dy="-0.6em">senior</tspan><tspan x="1330" dy="1.2em">information</tspan></text></g>
<g id="v5-1"><rect class="y" x="1345.7" y="681" width="26" height="27"/><text x="1358.7" y="694.5" font-size="4"><tspan x="1358.7" dy="-0.6em">Checking</tspan><tspan x="1358.7" dy="1.2em">menu</tspan></text></g>
<g id="v5-2"><rect class="y" x="1374.4" y="681" width="26" height="27"/><text x="1387.4" y="694.5" font-size="6.5">raffles</text></g>
<g id="v5-3"><rect class="y" x="1403.1" y="681" width="26" height="27"/><text x="1416.1" y="694.5" font-size="2.8"><tspan x="1416.1" dy="-1.2em">bonus /</tspan><tspan x="1416.1" dy="1.2em">loyalty</tspan><tspan x="1416.1" dy="1.2em">programme</tspan></text></g>
<g id="v5-4"><rect class="y" x="1431.8" y="681" width="26" height="27"/><text x="1444.8" y="694.5" font-size="3.5"><tspan x="1444.8" dy="-0.6em">Watching</tspan><tspan x="1444.8" dy="1.2em">Interview</tspan></text></g>
<g id="v5-5"><rect class="y" x="1460.5" y="681" width="26" height="27"/><text x="1473.5" y="694.5" font-size="3.3"><tspan x="1473.5" dy="-0.6em">download</tspan><tspan x="1473.5" dy="1.2em">app</tspan></text></g>
<g id="v5-6"><rect class="y" x="1489.2" y="681" width="26" height="27"/><text x="1502.2" y="694.5" font-size="3.7"><tspan x="1502.2" dy="-1.2em">change</tspan><tspan x="1502.2" dy="1.2em">language</tspan><tspan x="1502.2" dy="1.2em">of site</tspan></text></g>
<g id="v5-7"><rect class="y" x="1517.9" y="681" width="26" height="27"/><text x="1530.9" y="694.5" font-size="3.2"><tspan x="1530.9" dy="-0.6em">customer</tspan><tspan x="1530.9" dy="1.2em">service</tspan></text></g>
<!-- row6 y=711.2 -->
<g id="v6-0"><rect class="y" x="1317" y="711.2" width="26" height="27"/><text x="1330" y="724.7" font-size="2.8"><tspan x="1330" dy="-0.6em">searching</tspan><tspan x="1330" dy="1.2em">on website</tspan></text></g>
<g id="v6-1"><rect class="y" x="1345.7" y="711.2" width="26" height="27"/><text x="1358.7" y="724.7" font-size="4.3"><tspan x="1358.7" dy="-1.2em">Scanning</tspan><tspan x="1358.7" dy="1.2em">QR</tspan><tspan x="1358.7" dy="1.2em">codes</tspan></text></g>
<g id="v6-2"><rect class="y" x="1374.4" y="711.2" width="26" height="27"/><text x="1387.4" y="724.7" font-size="5.4"><tspan x="1387.4" dy="-0.6em">Read</tspan><tspan x="1387.4" dy="1.2em">Articles</tspan></text></g>
<g id="v6-3"><rect class="y" x="1403.1" y="711.2" width="26" height="27"/><text x="1416.1" y="724.7" font-size="3.3"><tspan x="1416.1" dy="-0.6em">Using the</tspan><tspan x="1416.1" dy="1.2em">Searchbar</tspan></text></g>
<g id="v6-4"><rect class="y" x="1431.8" y="711.2" width="26" height="27"/><text x="1444.8" y="724.7" font-size="4.2"><tspan x="1444.8" dy="-0.6em">order</tspan><tspan x="1444.8" dy="1.2em">gift card</tspan></text></g>
<g id="v6-5"><rect class="y" x="1460.5" y="711.2" width="26" height="27"/><text x="1473.5" y="724.7" font-size="4.2"><tspan x="1473.5" dy="-1.2em">ticket</tspan><tspan x="1473.5" dy="1.2em">quick</tspan><tspan x="1473.5" dy="1.2em">buy</tspan></text></g>
<g id="v6-6"><rect class="y" x="1489.2" y="711.2" width="26" height="27"/><text x="1502.2" y="724.7" font-size="3.3"><tspan x="1502.2" dy="-0.6em">payment</tspan><tspan x="1502.2" dy="1.2em">options</tspan></text></g>
<g id="v6-7"><rect class="y" x="1517.9" y="711.2" width="26" height="27"/><text x="1530.9" y="724.7" font-size="6.8"><tspan x="1530.9" dy="-0.6em">lost</tspan><tspan x="1530.9" dy="1.2em">items</tspan></text></g>
<!-- row7 y=741.4 -->
<g id="v7-0"><rect class="y" x="1317" y="741.4" width="26" height="27"/><text x="1330" y="754.9" font-size="2.9"><tspan x="1330" dy="-1.2em">information</tspan><tspan x="1330" dy="1.2em">for</tspan><tspan x="1330" dy="1.2em">advertisers</tspan></text></g>
<g id="v7-1"><rect class="y" x="1345.7" y="741.4" width="26" height="27"/><text x="1358.7" y="754.9" font-size="3.5"><tspan x="1358.7" dy="-0.6em">Streaming</tspan><tspan x="1358.7" dy="1.2em">movies</tspan></text></g>
<g id="v7-2"><rect class="y" x="1374.4" y="741.4" width="26" height="27"/><text x="1387.4" y="754.9" font-size="2.8">accessibility</text></g>
<g id="v7-3"><rect class="y" x="1403.1" y="741.4" width="26" height="27"/><text x="1416.1" y="754.9" font-size="2.8"><tspan x="1416.1" dy="-1.2em">Tutorial of</tspan><tspan x="1416.1" dy="1.2em">how to use</tspan><tspan x="1416.1" dy="1.2em">the website</tspan></text></g>
<g id="v7-4"><rect class="y" x="1431.8" y="741.4" width="26" height="27"/><text x="1444.8" y="754.9" font-size="4.2"><tspan x="1444.8" dy="-0.6em">Request</tspan><tspan x="1444.8" dy="1.2em">Refund</tspan></text></g>
<g id="v7-5"><rect class="y" x="1460.5" y="741.4" width="26" height="27"/><text x="1473.5" y="754.9" font-size="4.2"><tspan x="1473.5" dy="-1.2em">read</tspan><tspan x="1473.5" dy="1.2em">conduct</tspan><tspan x="1473.5" dy="1.2em">policy</tspan></text></g>
<g id="v7-6"><rect class="y" x="1489.2" y="741.4" width="26" height="27"/><text x="1502.2" y="754.9" font-size="2.6"><tspan x="1502.2" dy="-1.8em">view cinema</tspan><tspan x="1502.2" dy="1.2em">company</tspan><tspan x="1502.2" dy="1.2em">specific</tspan><tspan x="1502.2" dy="1.2em">features</tspan></text></g>
<g id="v7-7"><rect class="y" x="1517.9" y="741.4" width="26" height="27"/><text x="1530.9" y="754.9" font-size="6.8"><tspan x="1530.9" dy="-0.6em">read</tspan><tspan x="1530.9" dy="1.2em">news</tspan></text></g>
<!-- row8 y=771.6 -->
<g id="v8-0"><rect class="y" x="1317" y="771.6" width="26" height="27"/><text x="1330" y="785.1" font-size="4.2"><tspan x="1330" dy="-1.2em">read</tspan><tspan x="1330" dy="1.2em">business</tspan><tspan x="1330" dy="1.2em">reports</tspan></text></g>
<g id="v8-1"><rect class="y" x="1345.7" y="771.6" width="26" height="27"/><text x="1358.7" y="785.1" font-size="2.4"><tspan x="1358.7" dy="-1.2em">view</tspan><tspan x="1358.7" dy="1.2em">recommended</tspan><tspan x="1358.7" dy="1.2em">movies</tspan></text></g>
<g id="v8-2"><rect class="y" x="1374.4" y="771.6" width="26" height="27"/><text x="1387.4" y="785.1" font-size="5.4"><tspan x="1387.4" dy="-0.6em">list</tspan><tspan x="1387.4" dy="1.2em">facilities</tspan></text></g>
<g id="v8-3"><rect class="y" x="1403.1" y="771.6" width="26" height="27"/><text x="1416.1" y="785.1" font-size="2.8"><tspan x="1416.1" dy="-1.8em">look at</tspan><tspan x="1416.1" dy="1.2em">food</tspan><tspan x="1416.1" dy="1.2em">related</tspan><tspan x="1416.1" dy="1.2em">offers</tspan></text></g>
<g id="v8-4"><rect class="y" x="1431.8" y="771.6" width="26" height="27"/><text x="1444.8" y="785.1" font-size="3.7"><tspan x="1444.8" dy="-0.6em">Checking</tspan><tspan x="1444.8" dy="1.2em">Goals</tspan></text></g>
<g id="v8-5"><rect class="y" x="1460.5" y="771.6" width="26" height="27"/><text x="1473.5" y="785.1" font-size="3.4"><tspan x="1473.5" dy="-1.2em">set</tspan><tspan x="1473.5" dy="1.2em">personal</tspan><tspan x="1473.5" dy="1.2em">cinema</tspan></text></g>
<g id="v8-6"><rect class="y" x="1489.2" y="771.6" width="26" height="27"/><text x="1502.2" y="785.1" font-size="5.8"><tspan x="1502.2" dy="-0.6em">editing</tspan><tspan x="1502.2" dy="1.2em">profile</tspan></text></g>
<g id="v8-7"><rect class="y" x="1517.9" y="771.6" width="26" height="27"/><text x="1530.9" y="785.1" font-size="2.8"><tspan x="1530.9" dy="-0.6em">view past</tspan><tspan x="1530.9" dy="1.2em">purchases</tspan></text></g>
<!-- row9 y=801.8 -->
<g id="v9-0"><rect class="y" x="1317" y="801.8" width="26" height="27"/><text x="1330" y="815.3" font-size="3"><tspan x="1330" dy="-1.8em">view</tspan><tspan x="1330" dy="1.2em">recently</tspan><tspan x="1330" dy="1.2em">watched</tspan><tspan x="1330" dy="1.2em">movies</tspan></text></g>
<g id="v9-1"><rect class="y" x="1345.7" y="801.8" width="26" height="27"/><text x="1358.7" y="815.3" font-size="2.7"><tspan x="1358.7" dy="-0.6em">manage</tspan><tspan x="1358.7" dy="1.2em">subscriptions</tspan></text></g>
</g>
</svg>
